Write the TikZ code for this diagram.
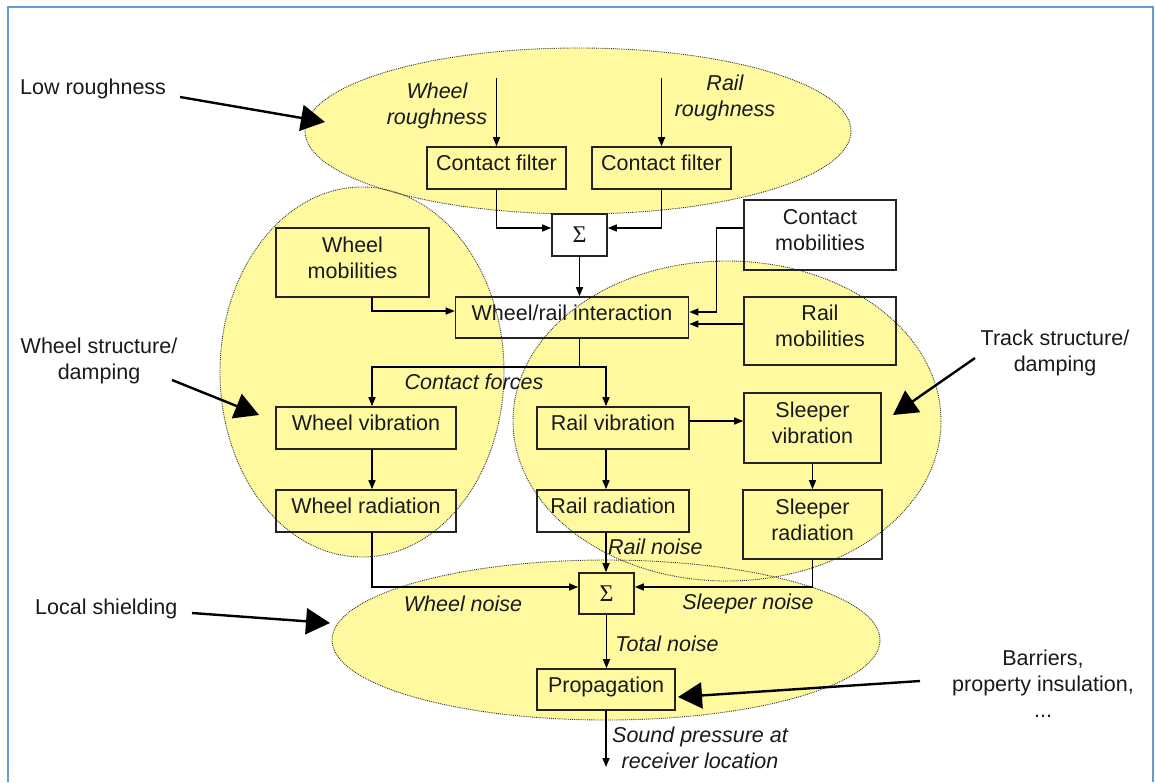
\documentclass[tikz,border=0pt]{standalone}
\usepackage{fontspec}
\setmainfont{Liberation Sans}
\newfontfamily\sigfont{Liberation Serif}
\usetikzlibrary{arrows.meta,calc}
\definecolor{ellfill}{RGB}{255,250,160}
\definecolor{framecol}{RGB}{100,155,215}
\definecolor{txt}{RGB}{25,25,30}
\definecolor{boxline}{RGB}{35,35,35}
\newcommand\boxtxt[1]{\raisebox{2.5pt}[\height][\depth]{\begin{tabular}{@{}c@{}}#1\end{tabular}}}
\begin{document}
\begin{tikzpicture}[x=1pt,y=-1pt,
  every node/.style={font=\fontsize{21.5}{26}\selectfont, text=txt, inner sep=0pt},
  box/.style={draw=boxline, line width=1.6pt},
  lab/.style={font=\fontsize{21.5}{26}\selectfont\itshape, align=center},
  plain/.style={align=center},
  arr/.style={line width=1.4pt, -{Triangle[length=9pt,width=7pt]}},
  bigarr/.style={line width=2.4pt, -{Triangle[length=24pt,width=26pt]}},
  ellb/.style={draw=black!80, line width=0.9pt, densely dotted}]
\useasboundingbox (0,0) rectangle (1155,782);
% frame
\draw[framecol, line width=1.6pt] (8,782) -- (8,7) -- (1153,7) -- (1153,782);
% ellipse fills
\fill[ellfill] (578,131) ellipse [x radius=273, y radius=83];
\fill[ellfill] (362,372) ellipse [x radius=142, y radius=185];
\fill[ellfill] (727,421) ellipse [x radius=214, y radius=160];
\fill[ellfill] (606,640) ellipse [x radius=274, y radius=80];
% ellipse borders
\draw[ellb] (578,131) ellipse [x radius=273, y radius=83];
\draw[ellb] (362,372) ellipse [x radius=142, y radius=185];
\draw[ellb] (727,421) ellipse [x radius=214, y radius=160];
\draw[ellb] (606,640) ellipse [x radius=274, y radius=80];
% boxes
\node[box, minimum width=139, minimum height=42] (cf1) at (496.5,168) {\boxtxt{Contact filter}};
\node[box, minimum width=139, minimum height=42] (cf2) at (661.5,168) {\boxtxt{Contact filter}};
\node[box, minimum width=55, minimum height=42] (s1) at (579.5,235) {\sigfont\fontsize{24}{26}\selectfont Σ};
\node[box, minimum width=233, minimum height=41] (wri) at (572,317.5) {\boxtxt{Wheel/rail interaction}};
\node[box, minimum width=153, minimum height=69] (wm) at (352.5,262.5) {\boxtxt{Wheel\\mobilities}};
\node[box, minimum width=152, minimum height=70] (cm) at (820,235) {\boxtxt{Contact\\mobilities}};
\node[box, minimum width=152, minimum height=68] (rm) at (820,331) {\boxtxt{Rail\\mobilities}};
\node[box, minimum width=180, minimum height=42] (wv) at (366,428) {\boxtxt{Wheel vibration}};
\node[box, minimum width=180, minimum height=42] (wr) at (366,511) {\boxtxt{Wheel radiation}};
\node[box, minimum width=152, minimum height=42] (rv) at (613,428) {\boxtxt{Rail vibration}};
\node[box, minimum width=152, minimum height=42] (rr) at (613,511) {\boxtxt{Rail radiation}};
\node[box, minimum width=137, minimum height=70] (sv) at (812.5,428) {\boxtxt{Sleeper\\vibration}};
\node[box, minimum width=139, minimum height=69] (sr) at (812.5,524.5) {\boxtxt{Sleeper\\radiation}};
\node[box, minimum width=55, minimum height=41] (s2) at (606.5,593.5) {\sigfont\fontsize{24}{26}\selectfont Σ};
\node[box, minimum width=138, minimum height=41] (pr) at (606,689.5) {\boxtxt{Propagation}};
% labels
\node[lab] (lwrough) at (437,106) {Wheel\\roughness};
\node[lab] (lrrough) at (725,98) {Rail\\roughness};
\node[lab] (lcf) at (474,382) {Contact forces};
\node[lab, anchor=west] (lrn) at (608,547) {Rail noise};
\node[lab] (lwn) at (463,604) {Wheel noise};
\node[lab] (lsn) at (748,604) {Sleeper noise};
\node[lab] (ltn) at (667,644) {Total noise};
\node[lab] (lsp) at (700,748) {Sound pressure at\\receiver location};
% free texts
\node[plain, anchor=west] (lowr) at (20,89) {Low roughness};
\node[plain] (wsd) at (99,361) {Wheel structure/\\damping};
\node[plain] (tsd) at (1055,353) {Track structure/\\damping};
\node[plain, anchor=west] (lsh) at (35,609) {Local shielding};
\node[plain] (bar) at (1043,684) {Barriers,\\property insulation,\\...};
% coordinates
\coordinate (wrough) at (496.5,78);
\coordinate (rrough) at (661.5,78);
\coordinate (outp) at (606,767);
\coordinate (a1s) at (180,97);   \coordinate (a1e) at (325,122);
\coordinate (a2s) at (172,380);  \coordinate (a2e) at (259,415);
\coordinate (a3s) at (975,358);  \coordinate (a3e) at (893,415);
\coordinate (a4s) at (192,613);  \coordinate (a4e) at (330,623);
\coordinate (a5s) at (920,681);  \coordinate (a5e) at (678,697);
% connectors
\draw[arr] (wrough) -- (cf1.north);
\draw[arr] (rrough) -- (cf2.north);
\draw[arr] (cf1.south) |- ([yshift=7pt]s1.west);
\draw[arr] (cf2.south) |- ([yshift=7pt]s1.east);
\draw[arr] (s1.south) -- (s1.south |- wri.north);
\draw[arr] ([xshift=19.5pt]wm.south) |- ([yshift=6.5pt]wri.west);
\draw[arr] ([yshift=7pt]cm.west) -- ++(-27,0) |- ([yshift=5.5pt]wri.east);
\draw[arr] ([yshift=7pt]rm.west) -- ([yshift=7pt]rm.west -| wri.east);
\draw[line width=1.4pt] ([xshift=7.5pt]wri.south) -- ++(0,28) coordinate (cfj);
\draw[arr] (cfj) -| ([xshift=6pt]wv.north);
\draw[arr] (cfj) -| ([xshift=-7pt]rv.north);
\draw[arr] ([xshift=6pt]wv.south) -- ([xshift=6pt]wr.north);
\draw[arr] ([xshift=-7pt]rv.south) -- ([xshift=-7pt]rr.north);
\draw[arr] ([yshift=7pt]rv.east) -- ([yshift=7pt]rv.east -| sv.west);
\draw[arr] (sv.south) -- (sr.north);
\draw[arr] ([xshift=6pt]wr.south) |- ([yshift=6.5pt]s2.west);
\draw[arr] ([xshift=-7pt]rr.south) -- ([xshift=-7pt]rr.south |- s2.north);
\draw[arr] (sr.south) |- ([yshift=6.5pt]s2.east);
\draw[arr] (s2.south) -- (s2.south |- pr.north);
\draw[arr] (pr.south) -- (outp);
% big arrows
\draw[bigarr] (a1s) -- (a1e);
\draw[bigarr] (a2s) -- (a2e);
\draw[bigarr] (a3s) -- (a3e);
\draw[bigarr] (a4s) -- (a4e);
\draw[bigarr] (a5s) -- (a5e);
\end{tikzpicture}
\end{document}
